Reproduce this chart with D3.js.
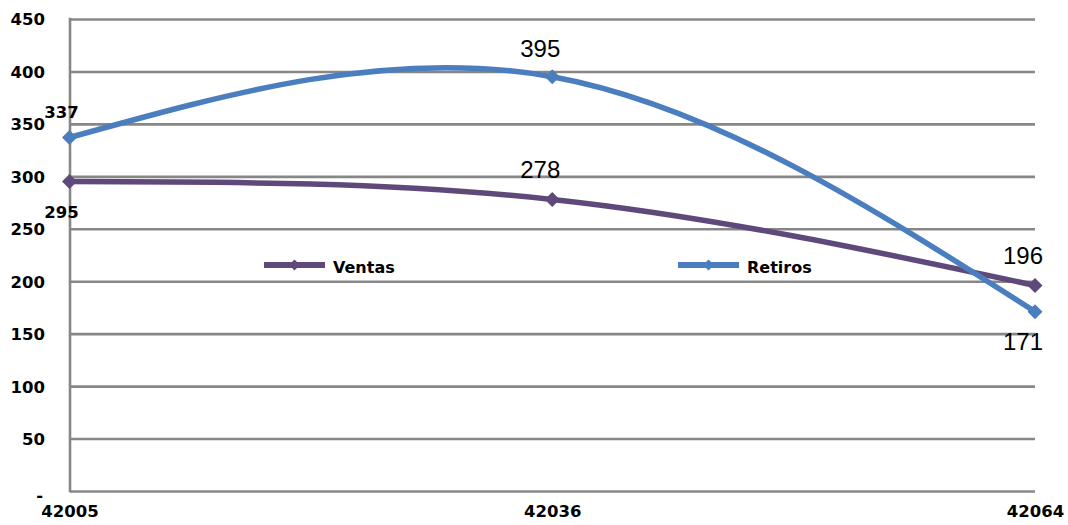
<!DOCTYPE html>
<html>
<head>
<meta charset="utf-8">
<script src="https://cdn.jsdelivr.net/npm/d3@7"></script>
<style>
  html, body { margin: 0; padding: 0; background: #fff; }
  svg { display: block; }
</style>
</head>
<body>
<svg id="chart" width="1068" height="525"></svg>
<script>
// Monthly figures
const categories = ["42005", "42036", "42064"];
const ventas = [295, 278, 196];
const retiros = [337, 395, 171];
const yTicks = [0, 50, 100, 150, 200, 250, 300, 350, 400, 450];

const W = 1068, H = 525;
const plot = { left: 70, right: 1035, top: 19, bottom: 491 };

const svg = d3.select("#chart");

const x = d3.scalePoint().domain(categories).range([plot.left - 0.5, plot.right]);
const y = d3.scaleLinear().domain([0, 450]).range([plot.bottom, plot.top]);

const gridColor = "#878787";
const boldFont = "'DejaVu Sans', sans-serif";
const plainFont = "'Liberation Sans', Arial, sans-serif";

// Horizontal gridlines
const grid = svg.append("g")
  .attr("transform", `translate(${plot.left},0)`)
  .call(d3.axisLeft(y).tickValues(yTicks).tickSize(-(plot.right - plot.left)).tickFormat(""));
grid.select(".domain").remove();
grid.selectAll("line").attr("stroke", gridColor).attr("stroke-width", 2.6);

// Vertical axis line
svg.append("line")
  .attr("x1", plot.left).attr("x2", plot.left)
  .attr("y1", plot.top - 1.3).attr("y2", plot.bottom + 1.3)
  .attr("stroke", gridColor).attr("stroke-width", 2.6);

// Y tick labels
const yAxis = svg.append("g")
  .attr("transform", `translate(${plot.left},0)`)
  .call(d3.axisLeft(y).tickValues(yTicks).tickSize(0).tickPadding(25)
    .tickFormat(d => d === 0 ? "-" : d3.format("d")(d)));
yAxis.select(".domain").remove();
yAxis.selectAll("text")
  .attr("dy", "0.36em")
  .style("font-family", boldFont)
  .style("font-weight", "bold")
  .style("font-size", "16.5px")
  .attr("fill", "#000");
yAxis.selectAll(".tick").filter(d => d === 0).select("text").attr("dx", -2).attr("dy", "0.55em");

// X tick labels
const xAxis = svg.append("g")
  .attr("transform", `translate(0,${plot.bottom})`)
  .call(d3.axisBottom(x).tickSize(0).tickPadding(14));
xAxis.select(".domain").remove();
xAxis.selectAll("text")
  .attr("dy", "0.71em")
  .style("font-family", boldFont)
  .style("font-weight", "bold")
  .style("font-size", "16.5px")
  .attr("fill", "#000");

const series = [
  { name: "Ventas", values: ventas, color: "#5F497A" },
  { name: "Retiros", values: retiros, color: "#4A7EBF" }
];

const line = d3.line()
  .x((d, i) => x(categories[i]))
  .y(d => y(d))
  .curve(d3.curveNatural);

const diamond = (cx, cy, r) =>
  `M${cx},${cy - r}L${cx + r},${cy}L${cx},${cy + r}L${cx - r},${cy}Z`;

series.forEach(s => {
  svg.append("path")
    .datum(s.values)
    .attr("d", line)
    .attr("fill", "none")
    .attr("stroke", s.color)
    .attr("stroke-width", 5.5)
    .attr("stroke-linejoin", "round");
  svg.append("g").selectAll("path")
    .data(s.values)
    .join("path")
    .attr("d", (d, i) => diamond(x(categories[i]), y(d), 7.5))
    .attr("fill", s.color);
});

// Value labels
const labels = [
  { s: 1, i: 0, dx: -8, dy: -20, bold: true },
  { s: 0, i: 0, dx: -8, dy: 36, bold: true },
  { s: 1, i: 1, dx: -12, dy: -20, bold: false },
  { s: 0, i: 1, dx: -12, dy: -21, bold: false },
  { s: 0, i: 2, dx: -12, dy: -21, bold: false },
  { s: 1, i: 2, dx: -12, dy: 38, bold: false }
];
svg.append("g").selectAll("text")
  .data(labels)
  .join("text")
  .attr("x", d => x(categories[d.i]) + d.dx)
  .attr("y", d => y(series[d.s].values[d.i]) + d.dy)
  .attr("text-anchor", "middle")
  .style("font-family", d => d.bold ? boldFont : plainFont)
  .style("font-weight", d => d.bold ? "bold" : "normal")
  .style("font-size", d => d.bold ? "16.5px" : "24px")
  .attr("fill", "#000")
  .text(d => series[d.s].values[d.i]);

// Legend
const legendItems = [
  { s: 0, x0: 264, x1: 325, tx: 333 },
  { s: 1, x0: 678, x1: 739, tx: 747 }
];
const legendY = 265;
const lg = svg.append("g").selectAll("g").data(legendItems).join("g");
lg.append("line")
  .attr("x1", d => d.x0).attr("x2", d => d.x1)
  .attr("y1", legendY).attr("y2", legendY)
  .attr("stroke", d => series[d.s].color)
  .attr("stroke-width", 6);
lg.append("path")
  .attr("d", d => diamond((d.x0 + d.x1) / 2, legendY, 5.5))
  .attr("fill", d => series[d.s].color);
lg.append("text")
  .attr("x", d => d.tx)
  .attr("y", legendY + 7.5)
  .style("font-family", boldFont)
  .style("font-weight", "bold")
  .style("font-size", "16px")
  .attr("fill", "#000")
  .text(d => series[d.s].name);
</script>
</body>
</html>
